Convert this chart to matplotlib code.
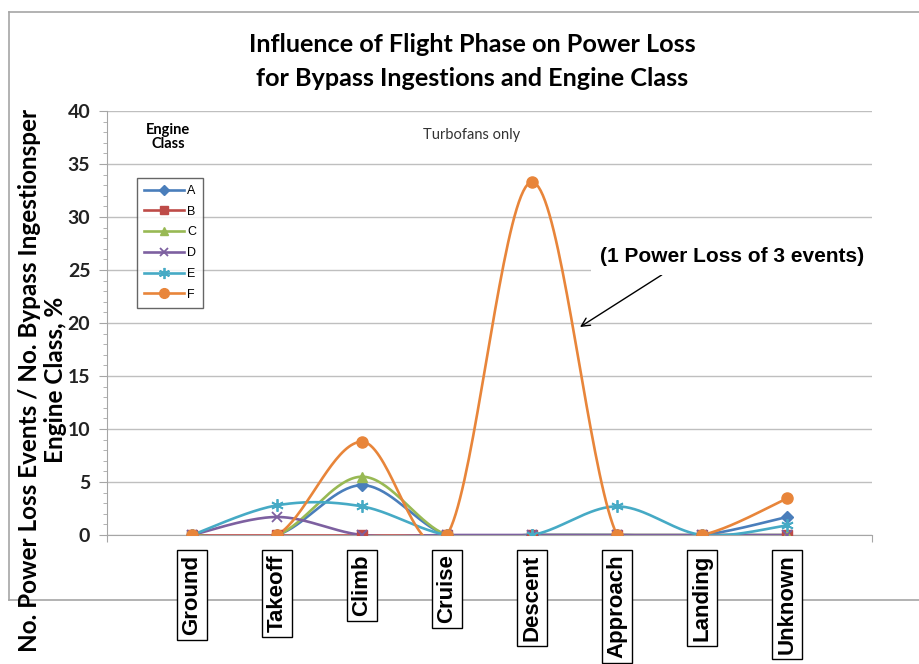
import numpy as np
import matplotlib
matplotlib.use("Agg")
import matplotlib.pyplot as plt
from matplotlib.lines import Line2D

phases = ["Ground", "Takeoff", "Climb", "Cruise", "Descent", "Approach", "Landing", "Unknown"]
series_names = ["A", "B", "C", "D", "E", "F"]
A = [0, 0, 4.7, 0, 0, 0, 0, 1.7]
B = [0, 0, 0, 0, 0, 0, 0, 0]
C = [0, 0, 5.5, 0, 0, 0, 0, 0]
D = [0, 1.7, 0, 0, 0, 0, 0, 0]
E = [0, 2.8, 2.7, 0, 0, 2.7, 0, 0.9]
F = [0, 0, 8.8, 0, 33.3, 0, 0, 3.45]
yticks = [0, 5, 10, 15, 20, 25, 30, 35, 40]

colors = ["#4A7EBB", "#BE4B48", "#98B954", "#7D60A0", "#46AAC5", "#E8853A"]
markers = ["D", "s", "^", "x", (6, 2, 0), "o"]
msizes = [6, 7, 7, 7, 9, 8]

W, H = 920, 664
fig = plt.figure(figsize=(W / 100, H / 100), dpi=100)

def px(x0, y0, x1, y1):
    return [x0 / W, 1 - y1 / H, (x1 - x0) / W, (y1 - y0) / H]

def fig_line(xa, ya):
    fig.add_artist(Line2D([x / W for x in xa], [1 - y / H for y in ya],
                          transform=fig.transFigure, color="#A6A6A6", lw=1.2, zorder=-5))

# outer chart border (right edge lies beyond the image)
fig_line([9.5, W], [12, 12])
fig_line([9.5, 9.5], [12, 600])
fig_line([9.5, W], [600, 600])

ax = fig.add_axes(px(107, 111, 872, 535))
ax.set_facecolor("none")
ax.set_xlim(0, 9)
ax.set_ylim(0, 40)

def smooth(xs, ys, n=40):
    pts = np.column_stack([xs, ys]).astype(float)
    P = np.vstack([pts[0], pts, pts[-1]])
    out = []
    for i in range(1, len(P) - 2):
        p0, p1, p2, p3 = P[i - 1], P[i], P[i + 1], P[i + 2]
        c1 = p1 + (p2 - p0) / 6.0
        c2 = p2 - (p3 - p1) / 6.0
        t = np.linspace(0, 1, n)[:, None]
        seg = ((1 - t) ** 3) * p1 + 3 * ((1 - t) ** 2) * t * c1 + 3 * (1 - t) * t ** 2 * c2 + t ** 3 * p2
        out.append(seg if i == 1 else seg[1:])
    return np.vstack(out)

xs = np.arange(1, len(phases) + 1)
handles = []
for name, vals, c, m, ms in zip(series_names, [A, B, C, D, E, F], colors, markers, msizes):
    curve = smooth(xs, vals)
    ax.plot(curve[:, 0], curve[:, 1], color=c, lw=1.9, solid_capstyle="round", zorder=3)
    mew = 1.3 if (m == "x" or isinstance(m, tuple)) else 1
    ax.plot(xs, vals, ls="none", marker=m, color=c, ms=ms, mew=mew, zorder=4)
    handles.append(Line2D([0], [0], color=c, lw=1.9, marker=m, ms=ms - 1, mew=mew))

# grid and axes
ax.set_yticks(yticks)
ax.set_yticks(np.arange(0, 41, 1), minor=True)
ax.yaxis.grid(True, color="#BFBFBF", lw=1.0, zorder=0)
ax.set_axisbelow(True)
for s in ["top", "right"]:
    ax.spines[s].set_visible(False)
ax.spines["left"].set_color("#A6A6A6")
ax.spines["bottom"].set_color("#A6A6A6")
ax.tick_params(axis="y", which="major", length=6, color="#A6A6A6", pad=6,
               labelsize=14, labelcolor="#222222")
ax.tick_params(axis="y", which="minor", length=3, color="#A6A6A6")
ax.set_xticks([0, 9])
ax.set_xticklabels(["", ""])
ax.tick_params(axis="x", length=5, color="#A6A6A6")
for lab in ax.get_yticklabels():
    lab.set_fontfamily("Lato")
    lab.set_fontweight("bold")

# category labels in boxes
for x, p in zip(xs, phases):
    ax.annotate(p, xy=(x, -0.046), xycoords=("data", "axes fraction"),
                rotation=90, ha="center", va="top", fontsize=16,
                fontweight="bold", family="Liberation Sans", annotation_clip=False,
                bbox=dict(boxstyle="square,pad=0.22", fc="white", ec="black", lw=1.0),
                zorder=10)

# title
fig.text(472 / W, 1 - 45 / H, "Influence of Flight Phase on Power Loss",
         ha="center", va="center", fontsize=18.2, family="Lato", fontweight="bold")
fig.text(472 / W, 1 - 78 / H, "for Bypass Ingestions and Engine Class",
         ha="center", va="center", fontsize=18.2, family="Lato", fontweight="bold")

# y label
fig.text(30 / W, 1 - 380 / H, "No. Power Loss Events / No. Bypass Ingestionsper",
         rotation=90, ha="center", va="center", fontsize=17.5, family="Lato", fontweight="bold")
fig.text(56 / W, 1 - 380 / H, "Engine Class, %",
         rotation=90, ha="center", va="center", fontsize=17.5, family="Lato", fontweight="bold")

# legend
fig.text(168 / W, 1 - 137 / H, "Engine\nClass", ha="center", va="center",
         fontsize=10.5, fontweight="bold", family="Lato", linespacing=1.05)
leg = ax.legend(handles, series_names, loc="upper left",
                bbox_to_anchor=(137 / W, 1 - 178 / H), bbox_transform=fig.transFigure,
                frameon=True, fancybox=False, edgecolor="#404040", fontsize=9,
                handlelength=3.2, handletextpad=0.25, labelspacing=0.7,
                borderpad=0.55, borderaxespad=0)
leg.get_frame().set_linewidth(1.0)
for t in leg.get_texts():
    t.set_family("Liberation Sans")

# annotations
ax.text(472 / W, 1 - 135 / H, "Turbofans only", transform=fig.transFigure,
        ha="center", va="center", fontsize=10.5, family="Lato", color="#333333")
ax.annotate("(1 Power Loss of 3 events)", xy=(580 / W, 1 - 327 / H), xycoords="figure fraction",
            xytext=(732 / W, 1 - 256 / H), textcoords="figure fraction",
            ha="center", va="center", fontsize=15, fontweight="bold",
            family="Liberation Sans",
            bbox=dict(boxstyle="square,pad=0.45", fc="white", ec="none"),
            arrowprops=dict(arrowstyle="->", color="black", lw=1.0,
                            shrinkA=0, shrinkB=0, relpos=(0.29, 0.0)),
            zorder=6)

fig.savefig("out.png", dpi=100)
